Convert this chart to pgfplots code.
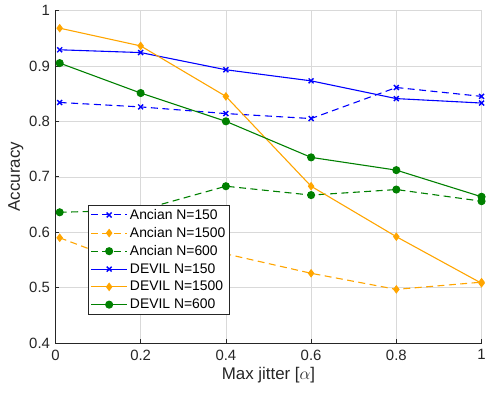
\documentclass[border={5pt 6pt 0pt 2pt}]{standalone}
\usepackage{pgfplots}
\pgfplotsset{compat=1.18}
\usepackage{fontspec}
\setmainfont{Liberation Sans}
\definecolor{mblue}{rgb}{0,0,1}
\definecolor{morange}{rgb}{1,0.647,0}
\definecolor{mgreen}{rgb}{0,0.5,0}
\definecolor{axgray}{rgb}{0.15,0.15,0.15}
\begin{document}
\begin{tikzpicture}
\begin{axis}[
  scale only axis,
  width=429pt, height=335pt,
  xmin=0, xmax=1, ymin=0.4, ymax=1,
  xtick={0,0.2,0.4,0.6,0.8,1},
  ytick={0.4,0.5,0.6,0.7,0.8,0.9,1},
  xticklabels={0,0.2,0.4,0.6,0.8,1},
  yticklabels={0.4,0.5,0.6,0.7,0.8,0.9,1},
  /pgf/number format/assume math mode=true,
  axis x line*=bottom, axis y line*=left,
  axis line style={-, axgray, line width=0.6pt},
  tick align=inside,
  major tick length=4pt,
  tick style={axgray, line width=0.6pt},
  grid=major,
  grid style={gray!30, line width=0.5pt},
  tick label style={font=\fontsize{15}{17}\selectfont, text=axgray},
  xticklabel style={yshift=-3pt},
  yticklabel style={xshift=-2pt},
  xlabel={Max jitter [$\alpha$]},
  ylabel={Accuracy},
  label style={font=\fontsize{17}{19}\selectfont, text=axgray},
  xlabel style={yshift=0pt},
  ylabel style={yshift=-1pt},
  legend style={at={(0.077,0.087)}, anchor=south west, font=\fontsize{14}{16}\selectfont,
    draw=axgray, line width=0.6pt, inner xsep=2pt, inner ysep=1.5pt, row sep=2.2pt, fill=white,
    nodes={inner sep=2.2pt}},
  legend cell align=left,
  legend image code/.code={\draw[#1] (0pt,0pt) -- (1.28cm,0pt); \draw[#1, solid] plot coordinates {(0.64cm,0pt)};},
  every axis plot/.append style={line width=1.1pt, mark size=3.5pt},
]
\addplot[mblue, dashed, dash pattern=on 7pt off 4.5pt, mark=x, mark options={solid, line width=1.4pt}] coordinates {
(0.01,0.834) (0.2,0.826) (0.4,0.814) (0.6,0.805) (0.8,0.861) (1,0.845)};
\addlegendentry{Ancian N=150}
\addplot[morange, dashed, dash pattern=on 7pt off 4.5pt, mark=diamond*, mark options={solid}] coordinates {
(0.01,0.590) (0.2,0.535) (0.4,0.561) (0.6,0.526) (0.8,0.497) (1,0.510)};
\addlegendentry{Ancian N=1500}
\addplot[mgreen, dashed, dash pattern=on 7pt off 4.5pt, mark=*, mark options={solid}] coordinates {
(0.01,0.636) (0.2,0.640) (0.4,0.683) (0.6,0.667) (0.8,0.677) (1,0.656)};
\addlegendentry{Ancian N=600}
\addplot[mblue, mark=x, mark options={line width=1.4pt}] coordinates {
(0.01,0.929) (0.2,0.924) (0.4,0.893) (0.6,0.873) (0.8,0.841) (1,0.833)};
\addlegendentry{DEVIL N=150}
\addplot[morange, mark=diamond*] coordinates {
(0.01,0.968) (0.2,0.936) (0.4,0.845) (0.6,0.683) (0.8,0.592) (1,0.508)};
\addlegendentry{DEVIL N=1500}
\addplot[mgreen, mark=*] coordinates {
(0.01,0.905) (0.2,0.851) (0.4,0.800) (0.6,0.735) (0.8,0.712) (1,0.664)};
\addlegendentry{DEVIL N=600}
\end{axis}
\end{tikzpicture}
\end{document}
